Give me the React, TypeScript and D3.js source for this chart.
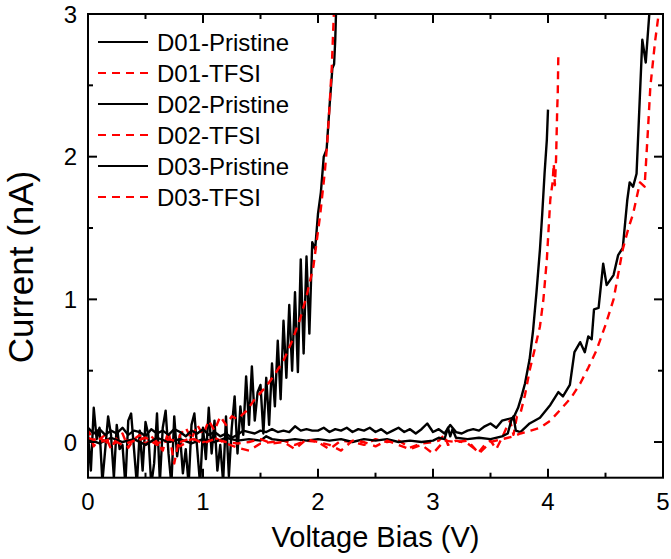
import React from "react";
import * as d3 from "d3";

type Pt = [number, number];

// Voltage (V), Current (nA)
const d01Pristine: Pt[] = [
  [0.0, 0.05], [0.025, -0.2], [0.05, 0.24], [0.075, 0.02], [0.1, 0.1], [0.125, -0.28], [0.15, -0.05], [0.175, 0.18],
  [0.2, 0.05], [0.225, -0.25], [0.25, 0.12], [0.275, -0.05], [0.3, -0.02], [0.325, -0.3], [0.35, 0.15], [0.375, 0.2],
  [0.4, -0.05], [0.425, -0.3], [0.45, 0.08], [0.475, -0.2], [0.5, 0.14], [0.525, 0.05], [0.55, -0.3], [0.575, -0.15],
  [0.6, 0.2], [0.625, -0.28], [0.65, 0.1], [0.675, 0.22], [0.7, -0.08], [0.725, -0.3], [0.75, 0.18], [0.775, -0.1],
  [0.8, 0.05], [0.825, -0.22], [0.85, -0.05], [0.875, -0.3], [0.9, 0.12], [0.925, 0.2], [0.95, -0.05], [0.975, -0.3],
  [1.0, 0.1], [1.025, -0.12], [1.05, 0.24], [1.075, -0.08], [1.1, 0.15], [1.125, -0.2], [1.15, -0.02], [1.175, -0.28],
  [1.2, 0.18], [1.225, -0.24], [1.25, 0.1], [1.275, 0.32], [1.3, -0.08], [1.325, 0.25], [1.35, 0.05], [1.375, 0.46],
  [1.4, 0.12], [1.425, 0.53], [1.45, 0.15], [1.475, 0.35], [1.5, 0.4], [1.525, 0.06], [1.55, 0.45], [1.575, 0.12],
  [1.6, 0.55], [1.625, 0.25], [1.65, 0.71], [1.675, 0.3], [1.7, 0.85], [1.725, 0.45], [1.75, 0.96], [1.775, 0.5],
  [1.8, 1.05], [1.825, 0.49], [1.85, 1.28], [1.875, 0.62], [1.9, 1.3], [1.925, 0.76], [1.95, 1.4], [1.975, 1.35],
  [2.0, 1.6], [2.025, 1.75], [2.05, 2.0], [2.075, 2.05], [2.1, 2.35], [2.125, 2.62], [2.14, 2.65], [2.15, 2.82],
  [2.16, 3.1],
];

const d01Tfsi: Pt[] = [
  [0.0, 0.1], [0.05, -0.03], [0.1, 0.02], [0.15, 0.05], [0.2, -0.05], [0.25, 0.03], [0.3, 0.06], [0.35, -0.04],
  [0.4, 0.02], [0.45, 0.05], [0.5, -0.02], [0.55, 0.04], [0.6, 0.0], [0.65, -0.06], [0.7, 0.08], [0.75, -0.15],
  [0.8, 0.05], [0.85, 0.1], [0.9, 0.02], [0.95, 0.12], [1.0, 0.05], [1.05, 0.15], [1.1, 0.08], [1.15, 0.18],
  [1.2, 0.12], [1.25, 0.18], [1.3, 0.16], [1.38, 0.22], [1.45, 0.3], [1.55, 0.39], [1.62, 0.47], [1.7, 0.57],
  [1.77, 0.7], [1.84, 0.85], [1.9, 1.02], [1.96, 1.23], [2.02, 1.6], [2.06, 1.9], [2.08, 2.09], [2.1, 2.35],
  [2.12, 2.63], [2.14, 3.05],
];

const d02Pristine: Pt[] = [
  [0.0, 0.1], [0.05, 0.06], [0.1, 0.09], [0.15, 0.05], [0.2, 0.08], [0.25, 0.06], [0.3, 0.1], [0.35, 0.05],
  [0.4, 0.08], [0.45, 0.07], [0.5, 0.04], [0.55, 0.09], [0.6, 0.06], [0.65, 0.08], [0.7, 0.05], [0.75, 0.09],
  [0.8, 0.07], [0.85, 0.04], [0.9, 0.08], [0.95, 0.06], [1.0, 0.09], [1.05, 0.05], [1.1, 0.07], [1.15, 0.04],
  [1.2, 0.06], [1.25, 0.03], [1.3, 0.05], [1.35, 0.08], [1.4, 0.07], [1.45, 0.06], [1.5, 0.08], [1.55, 0.07],
  [1.6, 0.09], [1.65, 0.07], [1.7, 0.08], [1.75, 0.07], [1.8, 0.11], [1.85, 0.08], [1.9, 0.09], [1.95, 0.08],
  [2.0, 0.08], [2.05, 0.1], [2.1, 0.07], [2.15, 0.09], [2.2, 0.08], [2.25, 0.1], [2.3, 0.07], [2.35, 0.09],
  [2.4, 0.08], [2.45, 0.1], [2.5, 0.07], [2.55, 0.09], [2.6, 0.06], [2.65, 0.08], [2.7, 0.1], [2.75, 0.07],
  [2.8, 0.09], [2.85, 0.06], [2.9, 0.09], [2.95, 0.13], [3.0, 0.07], [3.05, 0.09], [3.1, 0.06], [3.15, 0.12],
  [3.2, 0.07], [3.25, 0.06], [3.3, 0.08], [3.35, 0.09], [3.4, 0.08], [3.45, 0.11], [3.5, 0.13], [3.55, 0.1],
  [3.6, 0.15], [3.65, 0.16], [3.7, 0.17], [3.74, 0.24], [3.77, 0.32], [3.8, 0.41], [3.84, 0.58], [3.87, 0.78],
  [3.9, 1.05], [3.93, 1.35], [3.95, 1.6], [3.97, 1.88], [3.99, 2.12], [4.0, 2.33],
];

const d02Tfsi: Pt[] = [
  [0.0, 0.0], [0.1, 0.03], [0.2, -0.02], [0.3, 0.02], [0.4, 0.0], [0.5, 0.03], [0.6, -0.02], [0.7, 0.01],
  [0.8, -0.03], [0.9, 0.02], [1.0, 0.0], [1.1, 0.03], [1.2, -0.01], [1.3, -0.04], [1.4, -0.06], [1.5, -0.01],
  [1.6, 0.0], [1.7, 0.01], [1.8, -0.02], [1.9, 0.01], [2.0, 0.0], [2.1, -0.05], [2.2, 0.01], [2.3, 0.0],
  [2.4, -0.02], [2.5, 0.02], [2.6, 0.0], [2.7, 0.01], [2.8, -0.04], [2.9, -0.01], [3.0, 0.0], [3.05, 0.01],
  [3.1, 0.05], [3.13, -0.02], [3.2, 0.01], [3.3, -0.01], [3.4, -0.07], [3.45, -0.02], [3.5, 0.01], [3.55, -0.05],
  [3.6, 0.03], [3.65, 0.12], [3.67, 0.15], [3.7, 0.05], [3.73, 0.18], [3.76, 0.2], [3.8, 0.33], [3.84, 0.5],
  [3.89, 0.67], [3.93, 0.81], [3.96, 1.0], [3.99, 1.28], [4.02, 1.7], [4.04, 1.82], [4.05, 1.95], [4.06, 1.8],
  [4.07, 1.98], [4.08, 2.33], [4.085, 2.45], [4.09, 2.72],
];

const d03Pristine: Pt[] = [
  [0.0, 0.02], [0.1, -0.01], [0.2, 0.03], [0.3, 0.0], [0.4, 0.02], [0.5, -0.02], [0.6, 0.03], [0.7, 0.0],
  [0.8, 0.02], [0.9, -0.01], [1.0, 0.02], [1.1, 0.0], [1.2, 0.03], [1.3, 0.01], [1.4, 0.02], [1.5, 0.01],
  [1.55, 0.04], [1.6, 0.02], [1.7, 0.01], [1.8, 0.02], [1.9, 0.01], [2.0, 0.02], [2.1, 0.01], [2.2, 0.02],
  [2.3, 0.0], [2.4, 0.02], [2.5, 0.01], [2.6, 0.02], [2.7, 0.0], [2.8, 0.01], [2.9, 0.0], [3.0, 0.01],
  [3.05, 0.03], [3.1, 0.02], [3.13, 0.1], [3.15, 0.04], [3.17, 0.09], [3.2, 0.03], [3.3, 0.02], [3.4, 0.03],
  [3.5, 0.02], [3.6, 0.04], [3.65, 0.06], [3.68, 0.15], [3.7, 0.18], [3.72, 0.08], [3.76, 0.07], [3.84, 0.13],
  [3.93, 0.17], [4.02, 0.26], [4.09, 0.35], [4.13, 0.32], [4.19, 0.4], [4.23, 0.63], [4.28, 0.7], [4.32, 0.63],
  [4.35, 0.74], [4.38, 0.72], [4.4, 0.93], [4.44, 0.94], [4.48, 1.25], [4.51, 1.1], [4.57, 1.17], [4.61, 1.31],
  [4.65, 1.36], [4.69, 1.7], [4.71, 1.82], [4.74, 1.79], [4.77, 1.88], [4.82, 2.82], [4.85, 2.66], [4.89, 3.1],
];

const d03Tfsi: Pt[] = [
  [0.0, 0.03], [0.1, 0.0], [0.2, 0.02], [0.3, -0.02], [0.4, 0.01], [0.5, 0.03], [0.6, -0.01], [0.7, 0.02],
  [0.8, 0.0], [0.9, 0.03], [1.0, -0.01], [1.1, 0.02], [1.2, 0.0], [1.3, -0.01], [1.4, 0.0], [1.5, 0.02],
  [1.6, -0.01], [1.7, 0.0], [1.8, -0.05], [1.9, 0.02], [2.0, 0.0], [2.1, -0.02], [2.2, -0.06], [2.3, 0.01],
  [2.4, 0.0], [2.5, -0.03], [2.6, 0.01], [2.7, -0.02], [2.8, -0.05], [2.9, -0.02], [3.0, -0.08], [3.1, 0.01],
  [3.2, 0.0], [3.3, 0.01], [3.4, -0.08], [3.5, 0.0], [3.6, 0.02], [3.7, 0.04], [3.76, 0.06], [3.85, 0.08],
  [3.93, 0.1], [4.02, 0.15], [4.1, 0.22], [4.2, 0.31], [4.28, 0.41], [4.35, 0.52], [4.42, 0.64], [4.5, 0.82],
  [4.57, 1.0], [4.65, 1.35], [4.7, 1.5], [4.74, 1.6], [4.8, 1.82], [4.84, 1.79], [4.87, 2.2], [4.89, 2.49],
  [4.93, 2.8], [4.97, 3.05],
];

const seriesNames = ["D01-Pristine", "D01-TFSI", "D02-Pristine", "D02-TFSI", "D03-Pristine", "D03-TFSI"];
const seriesData = [d01Pristine, d01Tfsi, d02Pristine, d02Tfsi, d03Pristine, d03Tfsi];
const xTickLabels = [0, 1, 2, 3, 4, 5];
const yTickLabels = [0, 1, 2, 3];
const xMinorTicks = [0.5, 1.5, 2.5, 3.5, 4.5];
const yMinorTicks = [0.5, 1.5, 2.5];

const W = 671;
const H = 559;
const L = 88, R = 663, T = 14, B = 477.7;
const FONT = "'Liberation Sans', Arial, Helvetica, sans-serif";

export default function App() {
  const x = d3.scaleLinear().domain([0, 5]).range([L, R]);
  const y = d3.scaleLinear().domain([-0.25, 3]).range([B, T]);
  const line = d3.line<Pt>().x((d) => x(d[0])).y((d) => y(d[1]));
  const isRed = (i: number) => i % 2 === 1;
  const MAJ = 9, MIN = 5;

  return (
    <svg width={W} height={H} style={{ position: "absolute", left: 0, top: 0, background: "#fff" }} fontFamily={FONT}>
      <defs>
        <clipPath id="plotClip">
          <rect x={L} y={T} width={R - L} height={B - T} />
        </clipPath>
      </defs>
      <g clipPath="url(#plotClip)">
        {seriesData.map((s, i) => (
          <path
            key={seriesNames[i]}
            d={line(s) || ""}
            fill="none"
            stroke={isRed(i) ? "#ff0000" : "#000"}
            strokeWidth={2.4}
            strokeDasharray={isRed(i) ? "8,6" : undefined}
            strokeLinejoin="round"
          />
        ))}
      </g>
      {/* ticks */}
      <g stroke="#000" strokeWidth={2}>
        {xTickLabels.map((t) => (
          <g key={"xt" + t}>
            <line x1={x(t)} x2={x(t)} y1={B} y2={B - MAJ} />
            <line x1={x(t)} x2={x(t)} y1={T} y2={T + MAJ} />
          </g>
        ))}
        {xMinorTicks.map((t) => (
          <g key={"xm" + t}>
            <line x1={x(t)} x2={x(t)} y1={B} y2={B - MIN} />
            <line x1={x(t)} x2={x(t)} y1={T} y2={T + MIN} />
          </g>
        ))}
        {yTickLabels.map((t) => (
          <g key={"yt" + t}>
            <line x1={L} x2={L + MAJ} y1={y(t)} y2={y(t)} />
            <line x1={R} x2={R - MAJ} y1={y(t)} y2={y(t)} />
          </g>
        ))}
        {yMinorTicks.map((t) => (
          <g key={"ym" + t}>
            <line x1={L} x2={L + MIN} y1={y(t)} y2={y(t)} />
            <line x1={R} x2={R - MIN} y1={y(t)} y2={y(t)} />
          </g>
        ))}
      </g>
      <rect x={L} y={T} width={R - L} height={B - T} fill="none" stroke="#000" strokeWidth={2} />
      {/* tick labels */}
      {xTickLabels.map((t) => (
        <text key={"xl" + t} x={x(t)} y={510} fontSize={24} textAnchor="middle" fill="#000">
          {t}
        </text>
      ))}
      {yTickLabels.map((t) => (
        <text key={"yl" + t} x={77} y={y(t) + 8.5} fontSize={24} textAnchor="end" fill="#000">
          {t}
        </text>
      ))}
      <text x={(L + R) / 2} y={547} fontSize={29} textAnchor="middle" fill="#000">
        Voltage Bias (V)
      </text>
      <text transform={`translate(33,267) rotate(-90)`} fontSize={35} textAnchor="middle" fill="#000">
        Current (nA)
      </text>
      {/* legend */}
      {seriesNames.map((n, i) => {
        const cy = 42 + i * 31;
        return (
          <g key={"lg" + n}>
            <line
              x1={98}
              x2={148}
              y1={cy}
              y2={cy}
              stroke={isRed(i) ? "#ff0000" : "#000"}
              strokeWidth={2}
              strokeDasharray={isRed(i) ? "8,6" : undefined}
            />
            <text x={157} y={cy + 8.5} fontSize={24} fill="#000">
              {n}
            </text>
          </g>
        );
      })}
    </svg>
  );
}
